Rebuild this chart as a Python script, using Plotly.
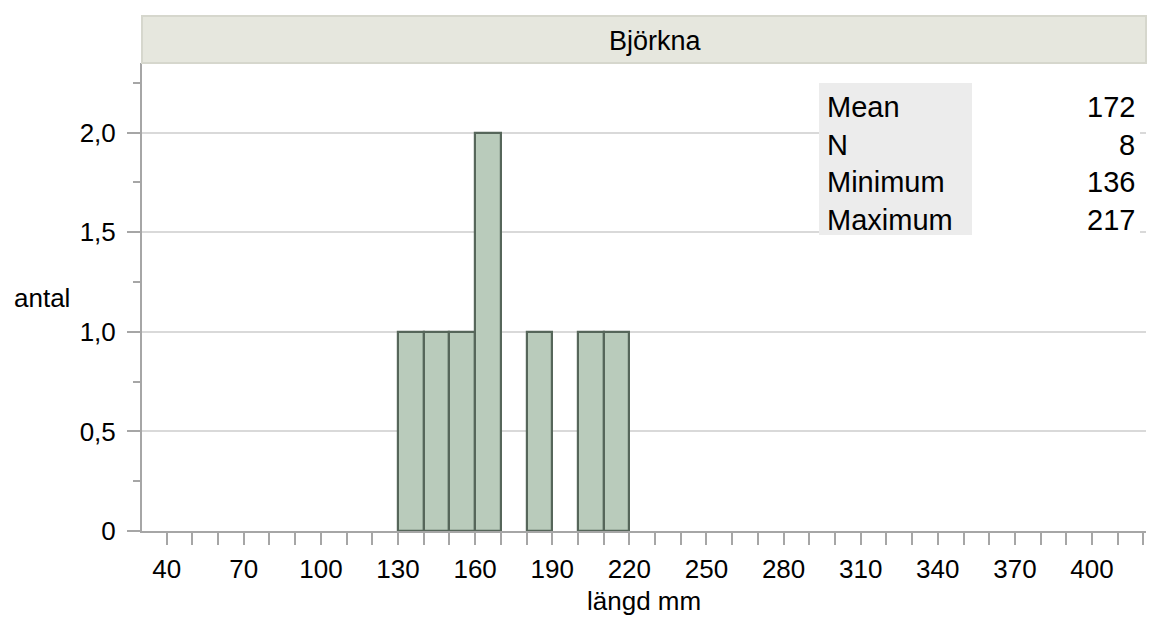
import plotly.graph_objects as go

# histogram of lengths (mm), bins of 10 mm, left edges and counts
bin_start = [130, 140, 150, 160, 180, 200, 210]
counts = [1, 1, 1, 2, 1, 1, 1]
bin_width = 10

stat_names = ['Mean', 'N', 'Minimum', 'Maximum']
stat_values = ['172', '8', '136', '217']

x_label_ticks = list(range(40, 401, 30))
x_minor_ticks = list(range(40, 421, 10))
y_ticks = [0, 0.5, 1.0, 1.5, 2.0]
y_ticktext = ['0', '0,5', '1,0', '1,5', '2,0']

FONT = 'Liberation Sans, Arial, sans-serif'
W, H = 1156, 617
L, R, T, B = 142, 10, 63, 86
plot_h = H - T - B
plot_w = W - L - R


def px_x(px):
    return (px - L) / plot_w


def px_y(py):
    return 1 - (py - T) / plot_h


def note(text, x, y, xanchor='center', size=26):
    return dict(text=text, xref='paper', yref='paper', x=px_x(x), y=px_y(y),
                xanchor=xanchor, yanchor='middle', showarrow=False,
                font=dict(size=size))


fig = go.Figure(go.Bar(x=bin_start, y=counts, width=bin_width, offset=0,
                       marker=dict(color='#b9cbbb',
                                   line=dict(color='#56665a', width=2.2)),
                       hoverinfo='x+y'))

fig.update_layout(
    width=W, height=H,
    margin=dict(l=L, r=R, t=T, b=B),
    paper_bgcolor='white', plot_bgcolor='white',
    font=dict(family=FONT, size=26, color='black'),
    showlegend=False,
    bargap=0,
)

fig.update_xaxes(range=[30.4, 421], showgrid=False, zeroline=False,
                 showline=True, linecolor='#a6a6a6', linewidth=2,
                 tickvals=x_label_ticks, ticks='outside', ticklen=12,
                 tickwidth=2, tickcolor='#a6a6a6', ticklabelstandoff=2,
                 tickfont=dict(size=26),
                 minor=dict(tickvals=x_minor_ticks, ticks='outside',
                            ticklen=12, tickwidth=2, tickcolor='#a6a6a6'))
fig.update_yaxes(range=[0, 2.35], showgrid=True, gridcolor='#d9d9d9',
                 gridwidth=2, zeroline=False, showline=True,
                 linecolor='#a6a6a6', linewidth=2,
                 tickvals=y_ticks, ticktext=y_ticktext, ticks='outside',
                 ticklen=13, tickwidth=2, tickcolor='#a6a6a6',
                 ticklabelstandoff=6, tickfont=dict(size=26),
                 minor=dict(dtick=0.25, tick0=0, ticks='outside', ticklen=7,
                            tickwidth=2, tickcolor='#a6a6a6', showgrid=False))

shapes = [
    # header strip
    dict(type='rect', xref='paper', yref='paper', x0=0, x1=1,
         y0=1, y1=px_y(16), fillcolor='#e6e7de',
         line=dict(color='#d6d7cd', width=2), layer='above'),
    # stats table background
    dict(type='rect', xref='paper', yref='paper', x0=px_x(819), x1=px_x(1140),
         y0=px_y(235), y1=px_y(83), fillcolor='white', line_width=0,
         layer='above'),
    dict(type='rect', xref='paper', yref='paper', x0=px_x(819), x1=px_x(972),
         y0=px_y(235), y1=px_y(83), fillcolor='#ececec', line_width=0,
         layer='above'),
]

annotations = [
    note('Björkna', 655, 41, size=27),
    note('antal', 12, 298, xanchor='left'),
    note('längd mm', 644, 601),
]
row_y = [107, 145, 182, 220]
for name, val, ry in zip(stat_names, stat_values, row_y):
    annotations.append(note(name, 825, ry, xanchor='left', size=29))
    annotations.append(note(val, 1137, ry, xanchor='right', size=29))

fig.update_layout(shapes=shapes, annotations=annotations)

fig.write_html('out.html', config={'displayModeBar': False},
               post_script="document.body.style.margin='0';")
